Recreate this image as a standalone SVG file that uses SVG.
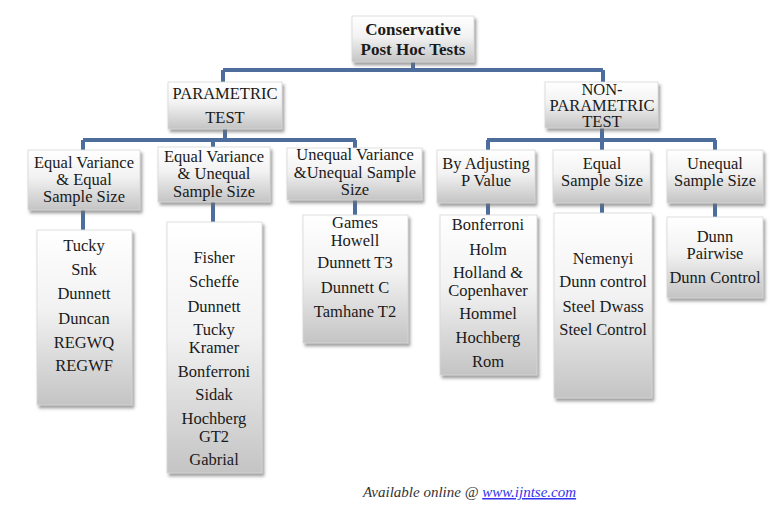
<svg xmlns="http://www.w3.org/2000/svg" width="781" height="518" viewBox="0 0 781 518">
<style>
  .box { fill: url(#g); filter: url(#sh); stroke: #d8d8d8; stroke-width: 0.8; }
  .t { font-family: "Liberation Serif", "Times New Roman", serif; font-size: 16.5px; fill: #1a1a1a; text-anchor: middle; }
  .tb { font-family: "Liberation Serif", "Times New Roman", serif; font-size: 17px; font-weight: bold; fill: #1a1a1a; text-anchor: middle; }
  .c { stroke: #4d6d9c; stroke-width: 4; fill: none; }
  .foot { font-family: "Liberation Serif", "Times New Roman", serif; font-size: 15px; font-style: italic; fill: #333; }
  .link { fill: #3333ee; text-decoration: underline; }
</style>
<defs>
  <linearGradient id="g" x1="0" y1="0" x2="0" y2="1">
    <stop offset="0" stop-color="#ffffff"/>
    <stop offset="0.45" stop-color="#f2f2f2"/>
    <stop offset="1" stop-color="#c4c4c4"/>
  </linearGradient>
  <filter id="sh" x="-20%" y="-20%" width="140%" height="140%">
    <feDropShadow dx="2" dy="3" stdDeviation="1.8" flood-color="#6f6f6f" flood-opacity="0.65"/>
  </filter>
</defs>
<rect width="781" height="518" fill="#ffffff"/>

<g id="connectors">
  <path class="c" d="M413 62 V70 M223 70 H603 M223 70 V82 M603 70 V82"/>
  <path class="c" d="M225 129 V140 M83 140 H356 M83 140 V150 M213 140 V147 M355 140 V148"/>
  <path class="c" d="M602 128 V140 M487 140 H716 M488 140 V150 M602 140 V150 M715 140 V150"/>
  <path class="c" d="M83 210 V230 M213 202 V222 M355 200 V215 M488 203 V215 M602 203 V213 M715 203 V217"/>
</g>

<g id="root">
  <rect class="box" x="352" y="16" width="122" height="46"/>
  <text class="tb" x="413" y="35">Conservative<tspan x="413" dy="20">Post Hoc Tests</tspan></text>
</g>

<g id="parametric">
  <rect class="box" x="168" y="82" width="114" height="47"/>
  <text class="t" x="225" y="99">PARAMETRIC<tspan x="225" dy="24">TEST</tspan></text>
</g>

<g id="nonparametric">
  <rect class="box" x="545" y="82" width="113" height="46"/>
  <text class="t" x="602" y="95">NON-<tspan x="602" dy="16">PARAMETRIC</tspan><tspan x="602" dy="16">TEST</tspan></text>
</g>

<g id="eq-var-eq-size">
  <rect class="box" x="28" y="150" width="112" height="60"/>
  <text class="t" x="84" y="168">Equal Variance<tspan x="84" dy="17">&amp; Equal</tspan><tspan x="84" dy="17">Sample Size</tspan></text>
</g>

<g id="eq-var-uneq-size">
  <rect class="box" x="158" y="147" width="112" height="55"/>
  <text class="t" x="214" y="162">Equal Variance<tspan x="214" dy="17">&amp; Unequal</tspan><tspan x="214" dy="18">Sample Size</tspan></text>
</g>

<g id="uneq-var-uneq-size">
  <rect class="box" x="287" y="148" width="135" height="52"/>
  <text class="t" x="355" y="160">Unequal Variance<tspan x="355" dy="18">&amp;Unequal Sample</tspan><tspan x="355" dy="17">Size</tspan></text>
</g>

<g id="adjusting-p">
  <rect class="box" x="437" y="150" width="98" height="53"/>
  <text class="t" x="486" y="169">By Adjusting<tspan x="486" dy="17">P Value</tspan></text>
</g>

<g id="np-equal-size">
  <rect class="box" x="553" y="150" width="97" height="53"/>
  <text class="t" x="602" y="169">Equal<tspan x="602" dy="17">Sample Size</tspan></text>
</g>

<g id="np-unequal-size">
  <rect class="box" x="667" y="150" width="96" height="53"/>
  <text class="t" x="715" y="169">Unequal<tspan x="715" dy="17">Sample Size</tspan></text>
</g>

<g id="list-1">
  <rect class="box" x="37" y="230" width="95" height="175"/>
  <text class="t" x="84" y="251">Tucky</text>
  <text class="t" x="84" y="275">Snk</text>
  <text class="t" x="84" y="299">Dunnett</text>
  <text class="t" x="84" y="324">Duncan</text>
  <text class="t" x="84" y="348">REGWQ</text>
  <text class="t" x="84" y="371">REGWF</text>
</g>

<g id="list-2">
  <rect class="box" x="167" y="222" width="95" height="251"/>
  <text class="t" x="214" y="263">Fisher</text>
  <text class="t" x="214" y="287">Scheffe</text>
  <text class="t" x="214" y="312">Dunnett</text>
  <text class="t" x="214" y="335">Tucky<tspan x="214" dy="18">Kramer</tspan></text>
  <text class="t" x="214" y="377">Bonferroni</text>
  <text class="t" x="214" y="400">Sidak</text>
  <text class="t" x="214" y="424">Hochberg<tspan x="214" dy="18">GT2</tspan></text>
  <text class="t" x="214" y="465">Gabrial</text>
</g>

<g id="list-3">
  <rect class="box" x="303" y="215" width="105" height="128"/>
  <text class="t" x="355" y="228">Games<tspan x="355" dy="18">Howell</tspan></text>
  <text class="t" x="355" y="268">Dunnett T3</text>
  <text class="t" x="355" y="293">Dunnett C</text>
  <text class="t" x="355" y="317">Tamhane T2</text>
</g>

<g id="list-4">
  <rect class="box" x="440" y="215" width="97" height="160"/>
  <text class="t" x="488" y="230">Bonferroni</text>
  <text class="t" x="488" y="255">Holm</text>
  <text class="t" x="488" y="278">Holland &amp;<tspan x="488" dy="18">Copenhaver</tspan></text>
  <text class="t" x="488" y="319">Hommel</text>
  <text class="t" x="488" y="343">Hochberg</text>
  <text class="t" x="488" y="367">Rom</text>
</g>

<g id="list-5">
  <rect class="box" x="554" y="213" width="98" height="185"/>
  <text class="t" x="603" y="264">Nemenyi</text>
  <text class="t" x="603" y="287">Dunn control</text>
  <text class="t" x="603" y="312">Steel Dwass</text>
  <text class="t" x="603" y="335">Steel Control</text>
</g>

<g id="list-6">
  <rect class="box" x="667" y="217" width="96" height="81"/>
  <text class="t" x="715" y="242">Dunn<tspan x="715" dy="17">Pairwise</tspan></text>
  <text class="t" x="715" y="283">Dunn Control</text>
</g>

<g id="footer">
  <text class="foot" x="363" y="497">Available online @ <tspan class="link">www.ijntse.com</tspan></text>
</g>
</svg>
